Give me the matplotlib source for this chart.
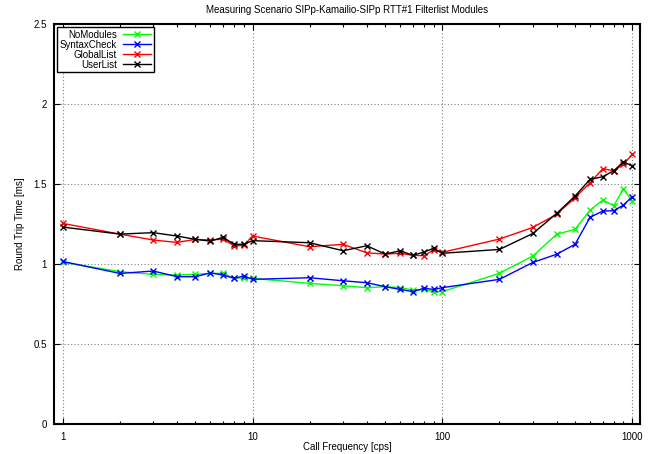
import matplotlib
matplotlib.use("Agg")
import matplotlib.pyplot as plt
import matplotlib.ticker as ticker

# call frequency [cps]
cps = [1, 2, 3, 4, 5, 6, 7, 8, 9, 10,
       20, 30, 40, 50, 60, 70, 80, 90, 100,
       200, 300, 400, 500, 600, 700, 800, 900, 1000]

# round trip time [ms]
no_modules = [1.01, 0.951, 0.934, 0.93, 0.934, 0.94, 0.94, 0.91, 0.913, 0.909,
              0.878, 0.863, 0.851, 0.857, 0.851, 0.836, 0.84, 0.826, 0.826,
              0.941, 1.049, 1.185, 1.216, 1.336, 1.399, 1.364, 1.468, 1.393]
syntax_check = [1.015, 0.94, 0.955, 0.92, 0.919, 0.944, 0.93, 0.909, 0.924, 0.903,
                0.913, 0.894, 0.882, 0.857, 0.84, 0.826, 0.847, 0.84, 0.851,
                0.903, 1.009, 1.06, 1.122, 1.291, 1.33, 1.332, 1.368, 1.42]
global_list = [1.253, 1.186, 1.149, 1.134, 1.153, 1.149, 1.155, 1.113, 1.115, 1.174,
               1.107, 1.122, 1.069, 1.061, 1.066, 1.053, 1.051, 1.086, 1.072,
               1.155, 1.228, 1.31, 1.413, 1.507, 1.595, 1.582, 1.622, 1.685]
user_list = [1.23, 1.186, 1.195, 1.174, 1.153, 1.142, 1.166, 1.122, 1.122, 1.145,
             1.132, 1.082, 1.113, 1.061, 1.082, 1.053, 1.074, 1.097, 1.066,
             1.09, 1.19, 1.315, 1.424, 1.528, 1.545, 1.582, 1.639, 1.611]

labels = ["NoModules", "SyntaxCheck", "GlobalList", "UserList"]
colors = ["#00ff00", "#0000ff", "#ff0000", "#000000"]

plt.rcParams['font.family'] = ['Liberation Sans', 'DejaVu Sans']

fig = plt.figure(figsize=(6.48, 4.54), dpi=100, facecolor='white')
ax = fig.add_axes([0.0833, 0.0667, 0.9044, 0.8804])

for series, lab, col in zip([no_modules, syntax_check, global_list, user_list], labels, colors):
    ax.plot(cps, series, color=col, linewidth=1.0, marker='x', markersize=5,
            markeredgewidth=1.0, label=lab)

ax.set_xscale('log')
ax.set_xlim(0.9, 1100)
ax.set_ylim(0, 2.5)
ax.set_yticks([0, 0.5, 1, 1.5, 2, 2.5])
ax.yaxis.set_major_formatter(ticker.FuncFormatter(lambda v, p: '%g' % v))
ax.xaxis.set_major_locator(ticker.FixedLocator([1, 10, 100, 1000]))
ax.xaxis.set_major_formatter(ticker.FuncFormatter(lambda v, p: '%g' % v))
ax.xaxis.set_minor_locator(ticker.LogLocator(base=10, subs=range(2, 10)))
ax.xaxis.set_minor_formatter(ticker.NullFormatter())

ax.grid(True, which='major', linestyle=(0, (1, 2)), color='#808080', linewidth=0.8)
ax.tick_params(axis='both', which='major', direction='in', length=4, width=0.8,
               labelsize=7, top=True, right=True)
ax.tick_params(axis='x', which='major', pad=6)
ax.tick_params(axis='y', which='major', pad=5)
ax.tick_params(axis='x', which='minor', direction='in', length=2, width=0.8,
               top=True)
for sp in ax.spines.values():
    sp.set_linewidth(1.5)

ax.set_title('Measuring Scenario SIPp-Kamailio-SIPp RTT#1 Filterlist Modules',
             fontsize=7, pad=8)
ax.set_xlabel('Call Frequency [cps]', fontsize=7, labelpad=0)
ax.set_ylabel('Round Trip Time [ms]', fontsize=7, labelpad=6)

leg = ax.legend(loc='upper left', markerfirst=False, fontsize=7, frameon=True,
                fancybox=False, edgecolor='black', framealpha=1,
                borderpad=0.25, labelspacing=0.0, handlelength=2.9,
                handletextpad=0.6, borderaxespad=0.35)
leg.get_frame().set_linewidth(1.0)

fig.savefig('out.png', dpi=100, facecolor='white')
